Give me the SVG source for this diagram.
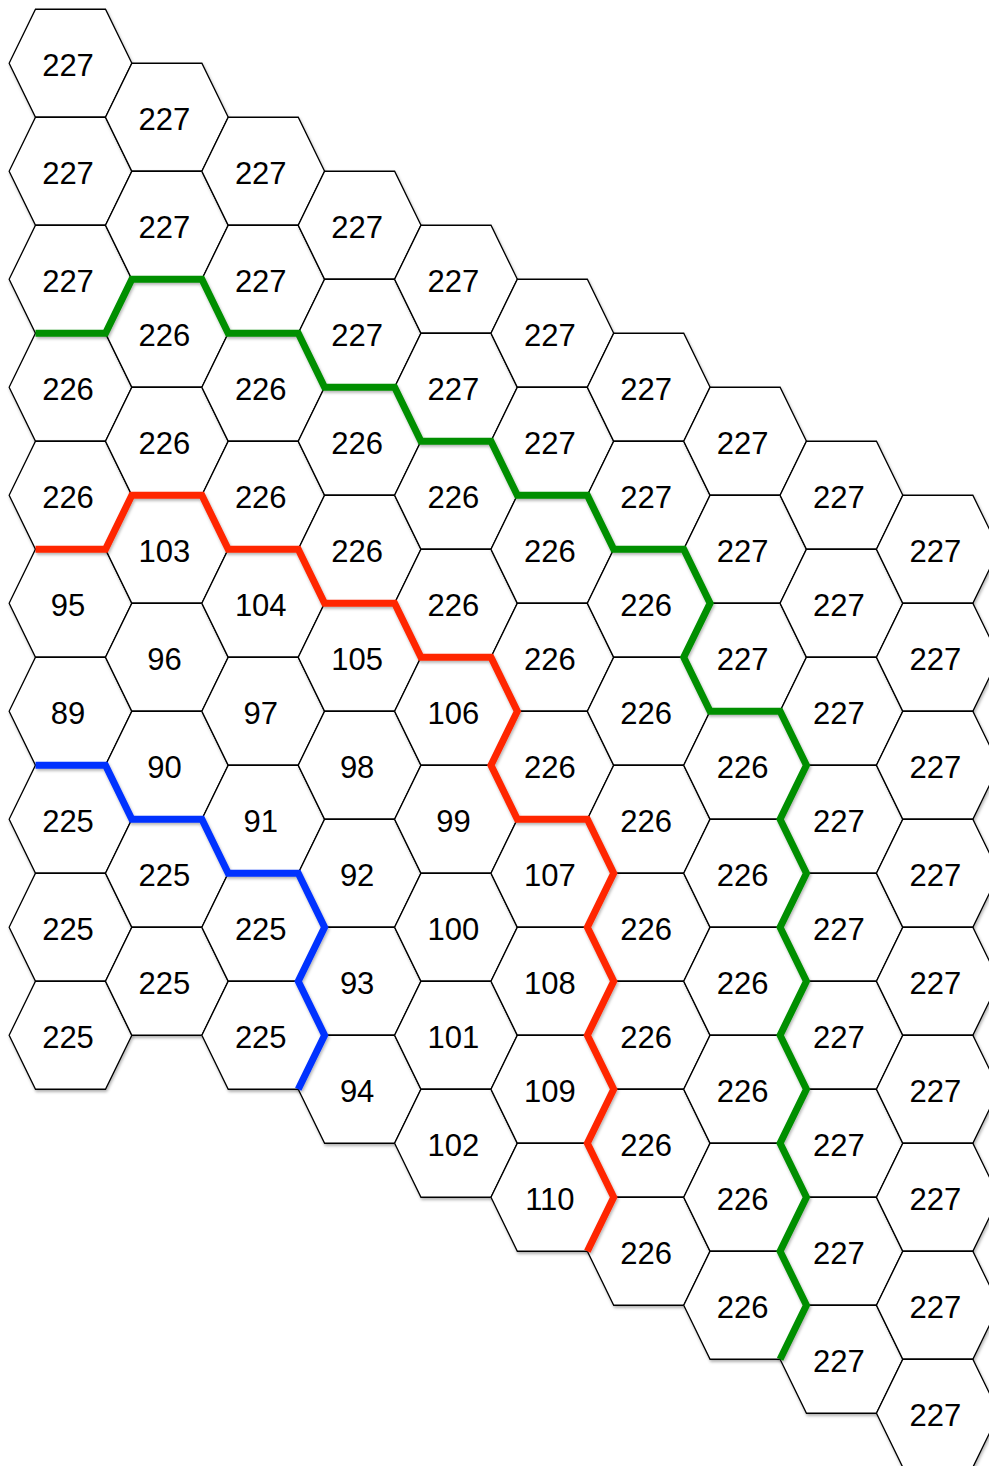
<svg xmlns="http://www.w3.org/2000/svg" xmlns:xlink="http://www.w3.org/1999/xlink" width="989" height="1466" viewBox="0 0 989 1466">
<style>
.hx{fill:#fff;stroke:#000;stroke-width:1.3;filter:url(#sh)}
text{font-family:"Liberation Sans",Arial,sans-serif;font-size:31px;text-anchor:middle;fill:#000}
.ln{fill:none;stroke-width:7;stroke-linejoin:miter;stroke-linecap:butt;filter:url(#sh)}
.g{stroke:#008f00}.r{stroke:#ff2600}.b{stroke:#0433ff}
</style>
<defs>
<filter id="sh" x="-10%" y="-10%" width="125%" height="125%"><feDropShadow dx="1" dy="2" stdDeviation="1.4" flood-color="#000" flood-opacity="0.3"/></filter>
<polygon id="hex" points="-61.35,0 -35,-54 35,-54 61.35,0 35,54 -35,54"/>
</defs>
<rect width="989" height="1466" fill="#fff"/>
<g id="nodes">
<g id="c0r0" transform="translate(70.5,63.25)"><use href="#hex" class="hx"/><text x="-2.5" y="13">227</text></g>
<g id="c0r1" transform="translate(70.5,171.25)"><use href="#hex" class="hx"/><text x="-2.5" y="13">227</text></g>
<g id="c0r2" transform="translate(70.5,279.25)"><use href="#hex" class="hx"/><text x="-2.5" y="13">227</text></g>
<g id="c0r3" transform="translate(70.5,387.25)"><use href="#hex" class="hx"/><text x="-2.5" y="13">226</text></g>
<g id="c0r4" transform="translate(70.5,495.25)"><use href="#hex" class="hx"/><text x="-2.5" y="13">226</text></g>
<g id="c0r5" transform="translate(70.5,603.25)"><use href="#hex" class="hx"/><text x="-2.5" y="13">95</text></g>
<g id="c0r6" transform="translate(70.5,711.25)"><use href="#hex" class="hx"/><text x="-2.5" y="13">89</text></g>
<g id="c0r7" transform="translate(70.5,819.25)"><use href="#hex" class="hx"/><text x="-2.5" y="13">225</text></g>
<g id="c0r8" transform="translate(70.5,927.25)"><use href="#hex" class="hx"/><text x="-2.5" y="13">225</text></g>
<g id="c0r9" transform="translate(70.5,1035.25)"><use href="#hex" class="hx"/><text x="-2.5" y="13">225</text></g>

<g id="c1r0" transform="translate(166.87,117.25)"><use href="#hex" class="hx"/><text x="-2.5" y="13">227</text></g>
<g id="c1r1" transform="translate(166.87,225.25)"><use href="#hex" class="hx"/><text x="-2.5" y="13">227</text></g>
<g id="c1r2" transform="translate(166.87,333.25)"><use href="#hex" class="hx"/><text x="-2.5" y="13">226</text></g>
<g id="c1r3" transform="translate(166.87,441.25)"><use href="#hex" class="hx"/><text x="-2.5" y="13">226</text></g>
<g id="c1r4" transform="translate(166.87,549.25)"><use href="#hex" class="hx"/><text x="-2.5" y="13">103</text></g>
<g id="c1r5" transform="translate(166.87,657.25)"><use href="#hex" class="hx"/><text x="-2.5" y="13">96</text></g>
<g id="c1r6" transform="translate(166.87,765.25)"><use href="#hex" class="hx"/><text x="-2.5" y="13">90</text></g>
<g id="c1r7" transform="translate(166.87,873.25)"><use href="#hex" class="hx"/><text x="-2.5" y="13">225</text></g>
<g id="c1r8" transform="translate(166.87,981.25)"><use href="#hex" class="hx"/><text x="-2.5" y="13">225</text></g>

<g id="c2r0" transform="translate(263.24,171.25)"><use href="#hex" class="hx"/><text x="-2.5" y="13">227</text></g>
<g id="c2r1" transform="translate(263.24,279.25)"><use href="#hex" class="hx"/><text x="-2.5" y="13">227</text></g>
<g id="c2r2" transform="translate(263.24,387.25)"><use href="#hex" class="hx"/><text x="-2.5" y="13">226</text></g>
<g id="c2r3" transform="translate(263.24,495.25)"><use href="#hex" class="hx"/><text x="-2.5" y="13">226</text></g>
<g id="c2r4" transform="translate(263.24,603.25)"><use href="#hex" class="hx"/><text x="-2.5" y="13">104</text></g>
<g id="c2r5" transform="translate(263.24,711.25)"><use href="#hex" class="hx"/><text x="-2.5" y="13">97</text></g>
<g id="c2r6" transform="translate(263.24,819.25)"><use href="#hex" class="hx"/><text x="-2.5" y="13">91</text></g>
<g id="c2r7" transform="translate(263.24,927.25)"><use href="#hex" class="hx"/><text x="-2.5" y="13">225</text></g>
<g id="c2r8" transform="translate(263.24,1035.25)"><use href="#hex" class="hx"/><text x="-2.5" y="13">225</text></g>

<g id="c3r0" transform="translate(359.61,225.25)"><use href="#hex" class="hx"/><text x="-2.5" y="13">227</text></g>
<g id="c3r1" transform="translate(359.61,333.25)"><use href="#hex" class="hx"/><text x="-2.5" y="13">227</text></g>
<g id="c3r2" transform="translate(359.61,441.25)"><use href="#hex" class="hx"/><text x="-2.5" y="13">226</text></g>
<g id="c3r3" transform="translate(359.61,549.25)"><use href="#hex" class="hx"/><text x="-2.5" y="13">226</text></g>
<g id="c3r4" transform="translate(359.61,657.25)"><use href="#hex" class="hx"/><text x="-2.5" y="13">105</text></g>
<g id="c3r5" transform="translate(359.61,765.25)"><use href="#hex" class="hx"/><text x="-2.5" y="13">98</text></g>
<g id="c3r6" transform="translate(359.61,873.25)"><use href="#hex" class="hx"/><text x="-2.5" y="13">92</text></g>
<g id="c3r7" transform="translate(359.61,981.25)"><use href="#hex" class="hx"/><text x="-2.5" y="13">93</text></g>
<g id="c3r8" transform="translate(359.61,1089.25)"><use href="#hex" class="hx"/><text x="-2.5" y="13">94</text></g>

<g id="c4r0" transform="translate(455.98,279.25)"><use href="#hex" class="hx"/><text x="-2.5" y="13">227</text></g>
<g id="c4r1" transform="translate(455.98,387.25)"><use href="#hex" class="hx"/><text x="-2.5" y="13">227</text></g>
<g id="c4r2" transform="translate(455.98,495.25)"><use href="#hex" class="hx"/><text x="-2.5" y="13">226</text></g>
<g id="c4r3" transform="translate(455.98,603.25)"><use href="#hex" class="hx"/><text x="-2.5" y="13">226</text></g>
<g id="c4r4" transform="translate(455.98,711.25)"><use href="#hex" class="hx"/><text x="-2.5" y="13">106</text></g>
<g id="c4r5" transform="translate(455.98,819.25)"><use href="#hex" class="hx"/><text x="-2.5" y="13">99</text></g>
<g id="c4r6" transform="translate(455.98,927.25)"><use href="#hex" class="hx"/><text x="-2.5" y="13">100</text></g>
<g id="c4r7" transform="translate(455.98,1035.25)"><use href="#hex" class="hx"/><text x="-2.5" y="13">101</text></g>
<g id="c4r8" transform="translate(455.98,1143.25)"><use href="#hex" class="hx"/><text x="-2.5" y="13">102</text></g>

<g id="c5r0" transform="translate(552.35,333.25)"><use href="#hex" class="hx"/><text x="-2.5" y="13">227</text></g>
<g id="c5r1" transform="translate(552.35,441.25)"><use href="#hex" class="hx"/><text x="-2.5" y="13">227</text></g>
<g id="c5r2" transform="translate(552.35,549.25)"><use href="#hex" class="hx"/><text x="-2.5" y="13">226</text></g>
<g id="c5r3" transform="translate(552.35,657.25)"><use href="#hex" class="hx"/><text x="-2.5" y="13">226</text></g>
<g id="c5r4" transform="translate(552.35,765.25)"><use href="#hex" class="hx"/><text x="-2.5" y="13">226</text></g>
<g id="c5r5" transform="translate(552.35,873.25)"><use href="#hex" class="hx"/><text x="-2.5" y="13">107</text></g>
<g id="c5r6" transform="translate(552.35,981.25)"><use href="#hex" class="hx"/><text x="-2.5" y="13">108</text></g>
<g id="c5r7" transform="translate(552.35,1089.25)"><use href="#hex" class="hx"/><text x="-2.5" y="13">109</text></g>
<g id="c5r8" transform="translate(552.35,1197.25)"><use href="#hex" class="hx"/><text x="-2.5" y="13">110</text></g>

<g id="c6r0" transform="translate(648.72,387.25)"><use href="#hex" class="hx"/><text x="-2.5" y="13">227</text></g>
<g id="c6r1" transform="translate(648.72,495.25)"><use href="#hex" class="hx"/><text x="-2.5" y="13">227</text></g>
<g id="c6r2" transform="translate(648.72,603.25)"><use href="#hex" class="hx"/><text x="-2.5" y="13">226</text></g>
<g id="c6r3" transform="translate(648.72,711.25)"><use href="#hex" class="hx"/><text x="-2.5" y="13">226</text></g>
<g id="c6r4" transform="translate(648.72,819.25)"><use href="#hex" class="hx"/><text x="-2.5" y="13">226</text></g>
<g id="c6r5" transform="translate(648.72,927.25)"><use href="#hex" class="hx"/><text x="-2.5" y="13">226</text></g>
<g id="c6r6" transform="translate(648.72,1035.25)"><use href="#hex" class="hx"/><text x="-2.5" y="13">226</text></g>
<g id="c6r7" transform="translate(648.72,1143.25)"><use href="#hex" class="hx"/><text x="-2.5" y="13">226</text></g>
<g id="c6r8" transform="translate(648.72,1251.25)"><use href="#hex" class="hx"/><text x="-2.5" y="13">226</text></g>

<g id="c7r0" transform="translate(745.09,441.25)"><use href="#hex" class="hx"/><text x="-2.5" y="13">227</text></g>
<g id="c7r1" transform="translate(745.09,549.25)"><use href="#hex" class="hx"/><text x="-2.5" y="13">227</text></g>
<g id="c7r2" transform="translate(745.09,657.25)"><use href="#hex" class="hx"/><text x="-2.5" y="13">227</text></g>
<g id="c7r3" transform="translate(745.09,765.25)"><use href="#hex" class="hx"/><text x="-2.5" y="13">226</text></g>
<g id="c7r4" transform="translate(745.09,873.25)"><use href="#hex" class="hx"/><text x="-2.5" y="13">226</text></g>
<g id="c7r5" transform="translate(745.09,981.25)"><use href="#hex" class="hx"/><text x="-2.5" y="13">226</text></g>
<g id="c7r6" transform="translate(745.09,1089.25)"><use href="#hex" class="hx"/><text x="-2.5" y="13">226</text></g>
<g id="c7r7" transform="translate(745.09,1197.25)"><use href="#hex" class="hx"/><text x="-2.5" y="13">226</text></g>
<g id="c7r8" transform="translate(745.09,1305.25)"><use href="#hex" class="hx"/><text x="-2.5" y="13">226</text></g>

<g id="c8r0" transform="translate(841.46,495.25)"><use href="#hex" class="hx"/><text x="-2.5" y="13">227</text></g>
<g id="c8r1" transform="translate(841.46,603.25)"><use href="#hex" class="hx"/><text x="-2.5" y="13">227</text></g>
<g id="c8r2" transform="translate(841.46,711.25)"><use href="#hex" class="hx"/><text x="-2.5" y="13">227</text></g>
<g id="c8r3" transform="translate(841.46,819.25)"><use href="#hex" class="hx"/><text x="-2.5" y="13">227</text></g>
<g id="c8r4" transform="translate(841.46,927.25)"><use href="#hex" class="hx"/><text x="-2.5" y="13">227</text></g>
<g id="c8r5" transform="translate(841.46,1035.25)"><use href="#hex" class="hx"/><text x="-2.5" y="13">227</text></g>
<g id="c8r6" transform="translate(841.46,1143.25)"><use href="#hex" class="hx"/><text x="-2.5" y="13">227</text></g>
<g id="c8r7" transform="translate(841.46,1251.25)"><use href="#hex" class="hx"/><text x="-2.5" y="13">227</text></g>
<g id="c8r8" transform="translate(841.46,1359.25)"><use href="#hex" class="hx"/><text x="-2.5" y="13">227</text></g>

<g id="c9r0" transform="translate(937.83,549.25)"><use href="#hex" class="hx"/><text x="-2.5" y="13">227</text></g>
<g id="c9r1" transform="translate(937.83,657.25)"><use href="#hex" class="hx"/><text x="-2.5" y="13">227</text></g>
<g id="c9r2" transform="translate(937.83,765.25)"><use href="#hex" class="hx"/><text x="-2.5" y="13">227</text></g>
<g id="c9r3" transform="translate(937.83,873.25)"><use href="#hex" class="hx"/><text x="-2.5" y="13">227</text></g>
<g id="c9r4" transform="translate(937.83,981.25)"><use href="#hex" class="hx"/><text x="-2.5" y="13">227</text></g>
<g id="c9r5" transform="translate(937.83,1089.25)"><use href="#hex" class="hx"/><text x="-2.5" y="13">227</text></g>
<g id="c9r6" transform="translate(937.83,1197.25)"><use href="#hex" class="hx"/><text x="-2.5" y="13">227</text></g>
<g id="c9r7" transform="translate(937.83,1305.25)"><use href="#hex" class="hx"/><text x="-2.5" y="13">227</text></g>
<g id="c9r8" transform="translate(937.83,1413.25)"><use href="#hex" class="hx"/><text x="-2.5" y="13">227</text></g>
</g>
<g id="connectors">
<polyline class="ln g" points="35.5,333.25 105.5,333.25 131.85,279.25 201.87,279.25 228.22,333.25 298.24,333.25 324.59,387.25 394.61,387.25 420.96,441.25 490.98,441.25 517.33,495.25 587.35,495.25 613.7,549.25 683.72,549.25 710.07,603.25 683.72,657.25 710.07,711.25 780.09,711.25 806.44,765.25 780.09,819.25 806.44,873.25 780.09,927.25 806.44,981.25 780.09,1035.25 806.44,1089.25 780.09,1143.25 806.44,1197.25 780.09,1251.25 806.44,1305.25 780.09,1359.25"/>
<polyline class="ln r" points="35.5,549.25 105.5,549.25 131.85,495.25 201.87,495.25 228.22,549.25 298.24,549.25 324.59,603.25 394.61,603.25 420.96,657.25 490.98,657.25 517.33,711.25 490.98,765.25 517.33,819.25 587.35,819.25 613.7,873.25 587.35,927.25 613.7,981.25 587.35,1035.25 613.7,1089.25 587.35,1143.25 613.7,1197.25 587.35,1251.25"/>
<polyline class="ln b" points="35.5,765.25 105.5,765.25 131.85,819.25 201.87,819.25 228.22,873.25 298.24,873.25 324.59,927.25 298.24,981.25 324.59,1035.25 298.24,1089.25"/>
</g>
</svg>
